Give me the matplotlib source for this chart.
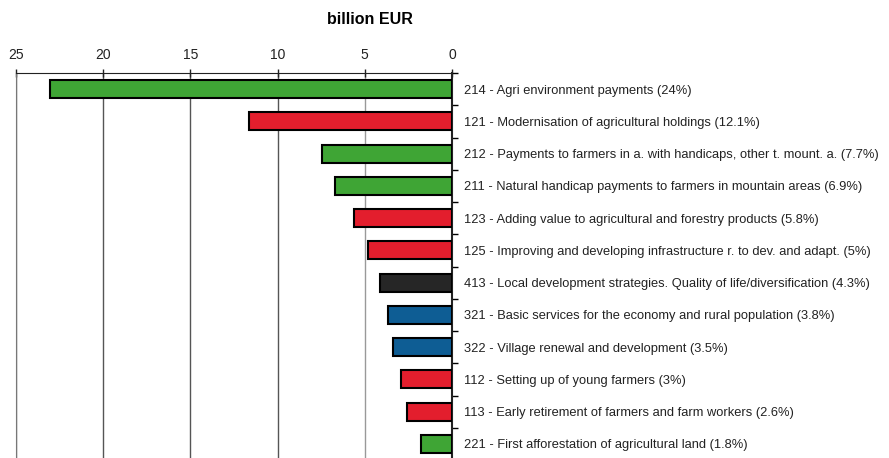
import matplotlib.pyplot as plt
import numpy as np

plt.rcParams['font.family'] = ['Liberation Sans', 'DejaVu Sans']

labels = [
    "214 - Agri environment payments (24%)",
    "121 - Modernisation of agricultural holdings (12.1%)",
    "212 - Payments to farmers in a. with handicaps, other t. mount. a. (7.7%)",
    "211 - Natural handicap payments to farmers in mountain areas (6.9%)",
    "123 - Adding value to agricultural and forestry products (5.8%)",
    "125 - Improving and developing infrastructure r. to dev. and adapt. (5%)",
    "413 - Local development strategies. Quality of life/diversification (4.3%)",
    "321 - Basic services for the economy and rural population (3.8%)",
    "322 - Village renewal and development (3.5%)",
    "112 - Setting up of young farmers (3%)",
    "113 - Early retirement of farmers and farm workers (2.6%)",
    "221 - First afforestation of agricultural land (1.8%)",
]
values = [23.05, 11.64, 7.45, 6.7, 5.6, 4.8, 4.13, 3.67, 3.38, 2.92, 2.58, 1.78]
groups = ["env", "comp", "env", "env", "comp", "comp", "leader", "rural", "rural", "comp", "comp", "env"]
colours = {"env": "#3fa535", "comp": "#e31e2d", "leader": "#262626", "rural": "#0e5d94"}

fig = plt.figure(figsize=(8.89, 4.58), dpi=100)
ax = fig.add_axes([16/889, -2/458, 436/889, 387/458])

y = np.arange(len(values))
ax.barh(y, values, height=0.56, color=[colours[g] for g in groups],
        edgecolor='black', linewidth=1.5, zorder=3)

ax.set_xlim(25, 0)
ax.set_ylim(len(values) - 0.5, -0.5)
ax.set_xticks([25, 20, 15, 10, 5, 0])
ax.xaxis.tick_top()
ax.tick_params(axis='x', direction='inout', length=6, width=1, labelsize=10, pad=5, colors='#222222')
ax.grid(axis='x', color='#555555', linewidth=1, zorder=0)
ax.get_xgridlines()[4].set_color('#999999')

ax.yaxis.tick_right()
ax.set_yticks(y)
ax.set_yticklabels(labels, fontsize=9.3, color='#222222')
ax.tick_params(axis='y', which='major', length=0, pad=9)
ax.set_yticks(np.arange(len(values) + 1) - 0.5, minor=True)
ax.tick_params(axis='y', which='minor', length=4, width=1, direction='out')

ax.spines['bottom'].set_visible(False)
ax.spines['left'].set_color('#777777')
ax.spines['top'].set_color('#222222')
ax.spines['right'].set_color('#222222')
ax.spines['right'].set_linewidth(1.5)

fig.text(370/889, 1 - 19/458, "billion EUR", ha='center', va='center',
         fontsize=11.5, fontweight='bold')

fig.savefig('out.png', dpi=100)
